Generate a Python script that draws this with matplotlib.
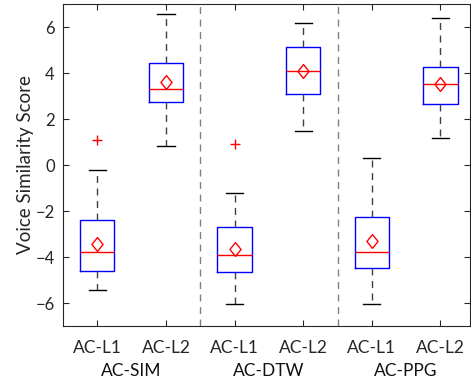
import matplotlib
matplotlib.use('Agg')
import matplotlib.pyplot as plt

plt.rcParams['font.family'] = ['Lato', 'DejaVu Sans']

# box statistics
labels = ['AC-L1', 'AC-L2', 'AC-L1', 'AC-L2', 'AC-L1', 'AC-L2']
groups = ['AC-SIM', 'AC-DTW', 'AC-PPG']
whislo = [-5.42, 0.81, -6.06, 1.49, -6.04, 1.19]
q1 = [-4.60, 2.74, -4.64, 3.10, -4.49, 2.67]
med = [-3.80, 3.32, -3.93, 4.07, -3.80, 3.51]
q3 = [-2.40, 4.43, -2.68, 5.14, -2.25, 4.26]
whishi = [-0.22, 6.57, -1.23, 6.16, 0.29, 6.40]
means = [-3.42, 3.60, -3.64, 4.10, -3.30, 3.52]
fliers = [[1.10], [], [0.93], [], [], []]

stats = []
for i in range(len(labels)):
    stats.append(dict(label=labels[i], whislo=whislo[i], q1=q1[i], med=med[i],
                      q3=q3[i], whishi=whishi[i], mean=means[i], fliers=fliers[i]))

fig = plt.figure(figsize=(4.71, 3.84), dpi=100)
ax = fig.add_axes([63/471, 1-326/384, 407/471, 322/384])

# matlab-like diamond, a bit taller than wide
diamond = [(0, -1), (0.8, 0), (0, 1), (-0.8, 0), (0, -1)]

ax.bxp(stats, positions=range(1, 7), widths=0.5, showmeans=True, patch_artist=False,
       boxprops=dict(color='blue', linewidth=1),
       medianprops=dict(color='red', linewidth=1),
       whiskerprops=dict(color='#404040', linewidth=1, linestyle=(0, (5, 4))),
       capprops=dict(color='black', linewidth=1),
       capwidths=0.25,
       meanprops=dict(marker=diamond, markerfacecolor='none', markeredgecolor='red',
                      markersize=10, markeredgewidth=1),
       flierprops=dict(marker='+', markeredgecolor='red', markersize=7))

for x in [2.5, 4.5]:
    ax.axvline(x, color='#808080', linestyle=(0, (5, 4)), linewidth=1)

ax.set_xlim(0.5, 6.43)
ax.set_ylim(-7, 7)
ax.set_yticks(range(-6, 7, 2))
ax.set_xticks(range(1, 7))
ax.set_xticklabels(labels)
ax.tick_params(direction='in', top=True, right=True, labelsize=12.5, colors='#262626',
               length=4, pad=10)
ax.tick_params(axis='y', pad=6, labelsize=12)
for s in ax.spines.values():
    s.set_color('#262626')

for k, g in enumerate(groups):
    ax.text(1.5 + 2 * k, -8.95, g, ha='center', va='center', fontsize=12.5, color='#111111')

ax.set_ylabel('Voice Similarity Score', fontsize=13.5, color='#262626', labelpad=1)

fig.savefig('out.png', dpi=100)
